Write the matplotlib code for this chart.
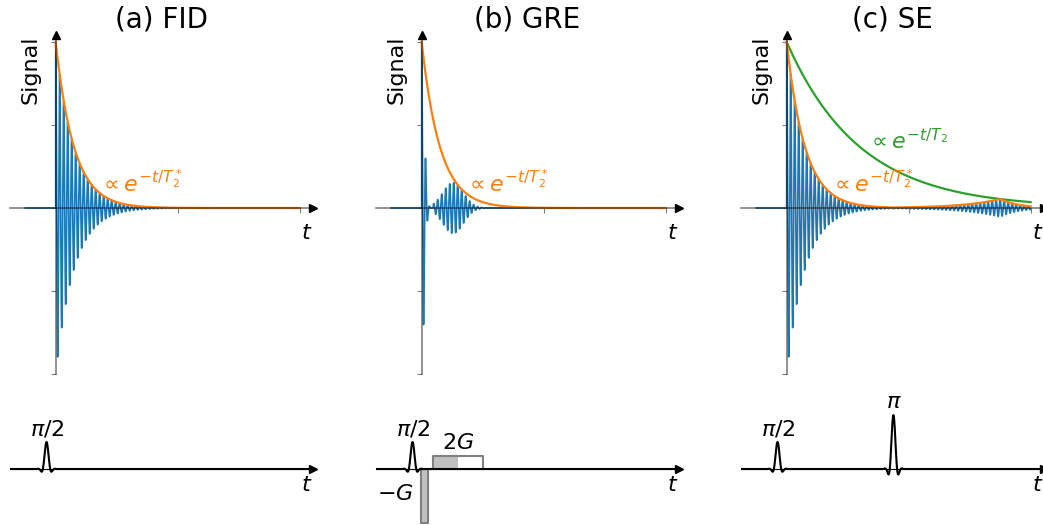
import numpy as np
import matplotlib
matplotlib.use("Agg")
import matplotlib.pyplot as plt

# ---------------- values ----------------
titles = ["(a) FID", "(b) GRE", "(c) SE"]
T2_STAR = 0.15          # decay constant of the orange envelope
T2 = 0.6                # decay constant of the green envelope (SE)
FREQ = 30.5             # oscillation frequency of the signal
T_START, T_END = -0.25, 2.0
T_PI2 = -0.075          # centre of the pi/2 pulse
T_PI = 0.875            # centre of the pi pulse (SE)
T_ECHO = 1.75           # spin-echo time (SE)
pulse_heights = [0.5, 1.0]
pulse_labels = [r"$\pi/2$", r"$\pi$"]
# GRE read-out gradient lobes
grad_starts = [-0.005, 0.095]
grad_ends = [0.055, 0.5]
grad_amps = [-1.0, 0.24]
grad_labels = [r"$-G$", r"$2G$"]
grad_rephase_end = 0.297   # end of the filled (rephasing) part of 2G
W_FID = 0.032           # dephasing width during -G
GRE_ECHO = 0.305        # gradient-echo centre
W_ECHO = 0.12           # gradient-echo width
label_T2s = r"$\propto e^{-t/T_2^*}$"
label_T2 = r"$\propto e^{-t/T_2}$"
label_T2s_pos = (0.355, 0.10)
label_T2_pos = (0.656, 0.355)

XLIM = (-0.377, 2.107)
YLIM = (-1.0, 1.04)
YLIM_SEQ = (-1.037, 1.278)

C_BLUE, C_ORANGE, C_GREEN = "#1f77b4", "#ff7f0e", "#2ca02c"

# ---------------- signals ----------------
t = np.linspace(T_START, T_END, 24001)
tp = t >= 0
osc = np.cos(2 * np.pi * FREQ * t)
env_fid = np.where(tp, np.exp(-np.clip(t, 0, None) / T2_STAR), 0.0)
sig_fid = osc * env_fid

# GRE: fast dephasing under -G, gradient echo under 2G
g_fid = np.exp(-(t / W_FID) ** 2)
g_echo = np.where(t >= grad_starts[1],
                  np.exp(-((t - GRE_ECHO) / W_ECHO) ** 2), 0.0)
sig_gre = osc * env_fid * (g_fid + g_echo)

# SE
T2P = 1.0 / (1.0 / T2_STAR - 1.0 / T2)
env_se = np.where(t < T_PI, env_fid,
                  np.exp(-t / T2) * np.exp(-np.abs(t - T_ECHO) / T2P))
env_se = np.where(tp, env_se, 0.0)
osc_se = np.where(t < T_PI, osc, np.cos(2 * np.pi * FREQ * (t - T_ECHO)))
sig_se = osc_se * env_se
env_t2 = np.exp(-t / T2)

signals = [sig_fid, sig_gre, sig_se]


def rf_pulse(tt, centre, height, d=0.03, w=2.5):
    x = (tt - centre) / d
    y = height * np.sinc(x) * (0.54 + 0.46 * np.cos(np.pi * x / w))
    return np.where(np.abs(x) <= w, y, 0.0)


ts = np.linspace(XLIM[0], XLIM[1], 6001)
rf_list = [
    rf_pulse(ts, T_PI2, pulse_heights[0]),
    rf_pulse(ts, T_PI2, pulse_heights[0]),
    rf_pulse(ts, T_PI2, pulse_heights[0]) + rf_pulse(ts, T_PI, pulse_heights[1]),
]

# ---------------- figure ----------------
W, H = 1043, 525
fig = plt.figure(figsize=(W / 100, H / 100), dpi=100)
lefts = [9.7, 375.7, 740.7]
FS = 16

for i in range(3):
    ax = fig.add_axes([lefts[i] / W, 151 / H, 303 / W, 338.6 / H])
    ax.set_xlim(*XLIM)
    ax.set_ylim(*YLIM)
    ax.spines[["top", "right"]].set_visible(False)
    for s in ("left", "bottom"):
        ax.spines[s].set_position("zero")
        ax.spines[s].set_color((0, 0, 0, 0.5))
        ax.spines[s].set_linewidth(1.2)
    ax.set_xticks([0, 1, 2])
    ax.set_yticks([-1, -0.5, 0, 0.5, 1])
    ax.set_xticklabels([])
    ax.set_yticklabels([])
    ax.tick_params(color=(0, 0, 0, 0.5))
    ax.plot(1, 0, ">k", transform=ax.get_yaxis_transform(), clip_on=False)
    ax.plot(0, 1, "^k", transform=ax.get_xaxis_transform(), clip_on=False)
    ax.set_ylabel("Signal", loc="top", fontsize=FS)
    ax.set_xlabel("$t$", loc="right", fontsize=FS)
    ax.set_title(titles[i], fontsize=20)

    ax.plot(t, signals[i], color=C_BLUE, lw=1.2)
    if i < 2:
        ax.plot(t[tp], env_fid[tp], color=C_ORANGE, lw=1.6)
    else:
        ax.plot(t[tp], env_t2[tp], color=C_GREEN, lw=1.6)
        ax.plot(t[tp], env_se[tp], color=C_ORANGE, lw=1.6)
        ax.text(*label_T2_pos, label_T2, color=C_GREEN, fontsize=FS,
                ha="left", va="baseline")
    ax.text(*label_T2s_pos, label_T2s, color=C_ORANGE, fontsize=FS,
            ha="left", va="baseline")

    # ---- sequence diagram ----
    bx = fig.add_axes([lefts[i] / W, 0, 303 / W, 125 / H])
    bx.set_xlim(*XLIM)
    bx.set_ylim(*YLIM_SEQ)
    bx.patch.set_alpha(0)
    bx.spines[["top", "right", "left"]].set_visible(False)
    bx.spines["bottom"].set_position("zero")
    bx.set_xticks([])
    bx.set_yticks([])
    bx.plot(1, 0, ">k", transform=bx.get_yaxis_transform(), clip_on=False)
    bx.set_xlabel("$t$", loc="right", fontsize=FS)
    if i == 1:
        g0s, g0e, g0a = grad_starts[0], grad_ends[0], grad_amps[0]
        g1s, g1e, g1a = grad_starts[1], grad_ends[1], grad_amps[1]
        bx.fill_between([g0s, g0e], 0, g0a, color="silver", lw=0)
        bx.fill_between([g1s, grad_rephase_end], 0, g1a, color="silver", lw=0)
        bx.plot([g0s, g0s, g0e, g0e, g1s, g1s, g1e, g1e],
                [0, g0a, g0a, 0, 0, g1a, g1a, 0], color="grey", lw=1.5)
        bx.text(g0s - 0.06, g0a * 0.47, grad_labels[0], fontsize=FS,
                ha="right", va="center")
        bx.text((g1s + g1e) / 2, g1a + 0.06, grad_labels[1], fontsize=FS,
                ha="center", va="bottom")
    bx.plot(ts, rf_list[i], color="black", lw=1.5)
    bx.text(T_PI2, pulse_heights[0] + 0.05, pulse_labels[0], fontsize=FS,
            ha="center", va="bottom")
    if i == 2:
        bx.text(T_PI, pulse_heights[1] + 0.05, pulse_labels[1], fontsize=FS,
                ha="center", va="bottom")

fig.savefig("out.png", dpi=100)
